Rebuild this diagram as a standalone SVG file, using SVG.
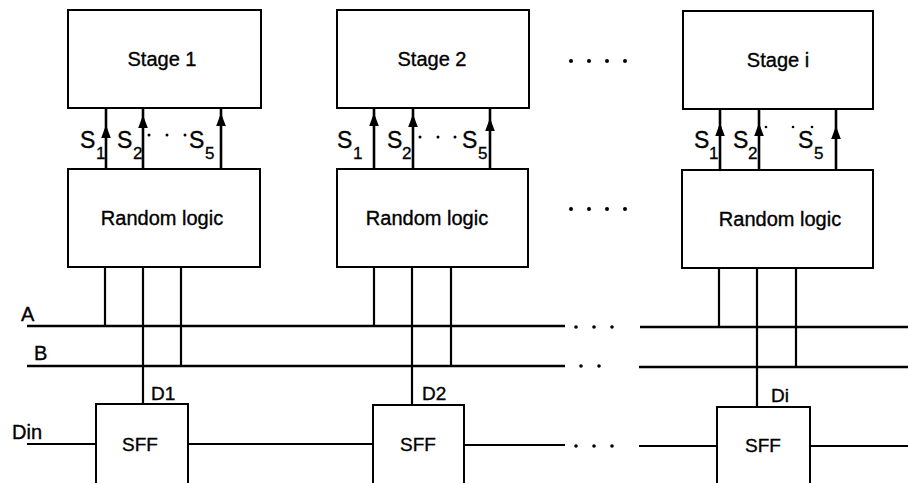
<svg xmlns="http://www.w3.org/2000/svg" xmlns:xlink="http://www.w3.org/1999/xlink" width="908" height="483" viewBox="0 0 908 483">
<style>
.box{fill:#fff;stroke:#000;stroke-width:2}
.w{stroke:#000;stroke-width:2.2;fill:none}
.bus{stroke:#000;stroke-width:2.5;fill:none}
.sig{stroke:#000;stroke-width:2.6;fill:none}
.t{font-family:"Liberation Sans",Arial,sans-serif;font-size:20px;fill:#000;stroke:#000;stroke-width:0.35}
.tc{text-anchor:middle}
.s{font-family:"Liberation Sans",Arial,sans-serif;font-size:23px;fill:#000;stroke:#000;stroke-width:0.35}
.sub{font-family:"Liberation Sans",Arial,sans-serif;font-size:17px;fill:#000;stroke:#000;stroke-width:0.3}
.d{fill:#000}
</style>
<defs>
<path id="ah" d="M0,0 L-4.8,13 L4.8,13 Z" fill="#000"/>
</defs>
<rect width="908" height="483" fill="#fff"/>

<g id="connectors">
  <line class="sig" x1="106" y1="169" x2="106" y2="108"/>
  <line class="sig" x1="143" y1="169" x2="143" y2="108"/>
  <line class="sig" x1="221" y1="169" x2="221" y2="108"/>
  <use xlink:href="#ah" x="106" y="125"/>
  <use xlink:href="#ah" x="143" y="115"/>
  <use xlink:href="#ah" x="221" y="113"/>
  <line class="sig" x1="374" y1="169" x2="374" y2="108"/>
  <line class="sig" x1="413" y1="169" x2="413" y2="108"/>
  <line class="sig" x1="490" y1="169" x2="490" y2="108"/>
  <use xlink:href="#ah" x="374" y="113"/>
  <use xlink:href="#ah" x="413" y="114"/>
  <use xlink:href="#ah" x="490" y="118"/>
  <line class="sig" x1="720" y1="170" x2="720" y2="109"/>
  <line class="sig" x1="759" y1="170" x2="759" y2="109"/>
  <line class="sig" x1="836" y1="170" x2="836" y2="109"/>
  <use xlink:href="#ah" x="720" y="123"/>
  <use xlink:href="#ah" x="759" y="123"/>
  <use xlink:href="#ah" x="836" y="126"/>

  <line class="bus" x1="27" y1="326" x2="565" y2="326"/>
  <line class="bus" x1="640" y1="327" x2="908" y2="327"/>
  <line class="bus" x1="27" y1="366" x2="565" y2="366"/>
  <line class="bus" x1="639" y1="367" x2="908" y2="367"/>

  <line class="w" x1="105" y1="267" x2="105" y2="326"/>
  <line class="w" x1="143" y1="267" x2="143" y2="404"/>
  <line class="w" x1="181" y1="267" x2="181" y2="366"/>
  <line class="w" x1="374" y1="267" x2="374" y2="326"/>
  <line class="w" x1="412" y1="267" x2="412" y2="405"/>
  <line class="w" x1="451" y1="267" x2="451" y2="366"/>
  <line class="w" x1="719" y1="268" x2="719" y2="327"/>
  <line class="w" x1="757" y1="268" x2="757" y2="407"/>
  <line class="w" x1="796" y1="268" x2="796" y2="367"/>

  <line class="w" x1="27" y1="444" x2="96" y2="444"/>
  <line class="w" x1="188" y1="444" x2="373" y2="444"/>
  <line class="w" x1="464" y1="445" x2="565" y2="445"/>
  <line class="w" x1="639" y1="446" x2="717" y2="446"/>
  <line class="w" x1="810" y1="446" x2="908" y2="446"/>

  <circle class="d" cx="576" cy="327" r="1.8"/>
  <circle class="d" cx="594" cy="327" r="1.8"/>
  <circle class="d" cx="612" cy="327" r="1.8"/>
  <circle class="d" cx="581" cy="366" r="1.8"/>
  <circle class="d" cx="599" cy="366" r="1.8"/>
  <circle class="d" cx="576" cy="446" r="1.8"/>
  <circle class="d" cx="594" cy="446" r="1.8"/>
  <circle class="d" cx="612" cy="446" r="1.8"/>

  <circle class="d" cx="571" cy="61" r="2"/>
  <circle class="d" cx="589" cy="61" r="2"/>
  <circle class="d" cx="607" cy="61" r="2"/>
  <circle class="d" cx="625" cy="61" r="2"/>
  <circle class="d" cx="571" cy="209" r="2"/>
  <circle class="d" cx="589" cy="209" r="2"/>
  <circle class="d" cx="607" cy="209" r="2"/>
  <circle class="d" cx="625" cy="209" r="2"/>

  <text class="s" x="80" y="148">S</text><text class="sub" x="96" y="159">1</text>
  <text class="s" x="117" y="148">S</text><text class="sub" x="133" y="159">2</text>
  <circle class="d" cx="149" cy="135" r="1.5"/>
  <circle class="d" cx="167" cy="135" r="1.5"/>
  <circle class="d" cx="185" cy="135" r="1.5"/>
  <text class="s" x="189" y="148">S</text><text class="sub" x="205" y="159">5</text>

  <text class="s" x="337" y="148">S</text><text class="sub" x="353" y="159">1</text>
  <text class="s" x="387" y="148">S</text><text class="sub" x="402" y="159">2</text>
  <circle class="d" cx="420" cy="137" r="1.5"/>
  <circle class="d" cx="438" cy="137" r="1.5"/>
  <circle class="d" cx="455" cy="137" r="1.5"/>
  <text class="s" x="462" y="148">S</text><text class="sub" x="478" y="159">5</text>

  <text class="s" x="694" y="148">S</text><text class="sub" x="709" y="159">1</text>
  <text class="s" x="733" y="148">S</text><text class="sub" x="748" y="159">2</text>
  <circle class="d" cx="766" cy="127" r="1.3"/>
  <circle class="d" cx="793" cy="127" r="1.3"/>
  <circle class="d" cx="812" cy="127" r="1.3"/>
  <text class="s" x="798" y="148">S</text><text class="sub" x="814" y="159">5</text>

  <text class="t" x="21" y="321">A</text>
  <text class="t" x="34" y="360">B</text>
  <text class="t" x="12" y="439">Din</text>
  <text class="t" x="151" y="400" style="font-size:19px">D1</text>
  <text class="t" x="422" y="400" style="font-size:19px">D2</text>
  <text class="t" x="771" y="402" style="font-size:19px">Di</text>
</g>

<g id="stage1"><rect class="box" x="68" y="10" width="193" height="98"/><text class="t tc" x="162" y="66">Stage 1</text></g>
<g id="stage2"><rect class="box" x="337" y="10" width="192" height="98"/><text class="t tc" x="432" y="66">Stage 2</text></g>
<g id="stagei"><rect class="box" x="683" y="11" width="190" height="98"/><text class="t tc" x="778" y="67">Stage i</text></g>

<g id="logic1"><rect class="box" x="68" y="169" width="192" height="98"/><text class="t tc" x="162" y="225">Random logic</text></g>
<g id="logic2"><rect class="box" x="337" y="169" width="191" height="98"/><text class="t tc" x="427" y="225">Random logic</text></g>
<g id="logici"><rect class="box" x="682" y="170" width="191" height="98"/><text class="t tc" x="780" y="226">Random logic</text></g>

<g id="sff1"><rect class="box" x="96" y="404" width="92" height="82"/><text class="t tc" x="140" y="451" style="font-size:19px">SFF</text></g>
<g id="sff2"><rect class="box" x="373" y="405" width="91" height="81"/><text class="t tc" x="418" y="451" style="font-size:19px">SFF</text></g>
<g id="sffi"><rect class="box" x="717" y="407" width="93" height="79"/><text class="t tc" x="763" y="452" style="font-size:19px">SFF</text></g>
</svg>
